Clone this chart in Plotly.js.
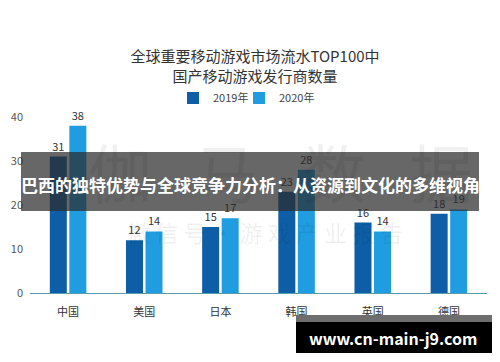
<!DOCTYPE html>
<html><head><meta charset="utf-8">
<script src="https://cdn.plot.ly/plotly-3.0.1.min.js"></script>
<style>html,body{margin:0;padding:0;background:#fff;}#chart{width:500px;height:362px;}</style>
</head><body><div id="chart"></div>
<script>
const categories = ['中国','美国','日本','韩国','英国','德国'];
const values2019 = [31,12,15,23,16,18];
const values2020 = [38,14,17,28,14,19];
const seriesNames = ['2019年','2020年'];
const yTicks = [0,10,20,30,40];

const F = '"Noto Sans CJK SC","Noto Sans",sans-serif';
// plot area in pixels: x 30..487, y 117..293
const L=30, R=487, T=117, B=293;
const px = x => (x-L)/(R-L);
const py = y => (B-y)/(B-T);

const traces = [
  {type:'bar', name:seriesNames[0], x:categories, y:values2019, marker:{color:'#0d5ea6'},
   text:values2019.map(String), textposition:'outside', cliponaxis:false, legend:'legend',
   textfont:{family:F,size:11,color:'#333'}, hoverinfo:'none'},
  {type:'bar', name:seriesNames[1], x:categories, y:values2020, marker:{color:'#1f9de0'},
   text:values2020.map(String), textposition:'outside', cliponaxis:false, legend:'legend2',
   textfont:{family:F,size:11,color:'#333'}, hoverinfo:'none'}
];

const legendBase = {orientation:'h', xanchor:'left', y:py(98), yanchor:'middle',
  font:{family:F,size:11,color:'#444'}, itemwidth:30, bgcolor:'rgba(0,0,0,0)'};

const layout = {
  width:500, height:362,
  margin:{l:L, r:500-R, t:T, b:362-B, pad:0},
  paper_bgcolor:'#fff', plot_bgcolor:'rgba(0,0,0,0)',
  font:{family:F, color:'#333'},
  title:{text:'全球重要移动游戏市场流水TOP100中<br>国产移动游戏发行商数量',
    x:0.51, xanchor:'center', y:1-62/362, yanchor:'middle', yref:'container',
    font:{family:F,size:15,color:'#333'}},
  barmode:'group', bargap:0.487, bargroupgap:0.13,
  showlegend:true,
  legend:Object.assign({}, legendBase, {x:px(173)}),
  legend2:Object.assign({}, legendBase, {x:px(239)}),
  xaxis:{showline:true, linecolor:'#5b9bb0', linewidth:1, showgrid:false, ticks:'',
    tickfont:{family:F,size:11,color:'#333'}, ticklabelstandoff:9, zeroline:false, fixedrange:true},
  yaxis:{range:[0,40], tickvals:yTicks, showgrid:false, zeroline:false, showline:false, ticks:'',
    tickfont:{family:F,size:11,color:'#555'}, ticklabelstandoff:6, fixedrange:true},
  shapes:[
    {type:'rect', xref:'paper', yref:'paper', x0:px(21), x1:px(479), y0:py(211), y1:py(152),
     fillcolor:'rgba(45,45,45,0.72)', line:{width:0}, layer:'above'},
    {type:'rect', xref:'paper', yref:'paper', x0:px(296), x1:px(492), y0:py(322), y1:py(315),
     fillcolor:'#6e6e6e', line:{width:0}, layer:'above'},
    {type:'rect', xref:'paper', yref:'paper', x0:px(296), x1:px(492), y0:py(353), y1:py(322),
     fillcolor:'#000', line:{width:0}, layer:'above'}
  ],
  annotations:[
    {xref:'paper', yref:'paper', x:px(280), y:py(170), text:'伽   马   数   据', showarrow:false,
     font:{family:F,size:64,color:'rgba(0,0,0,0.06)'}, xanchor:'center', yanchor:'middle'},
    {xref:'paper', yref:'paper', x:px(265), y:py(232), text:'微 信 号 · 游 戏 产 业 报 告', showarrow:false,
     font:{family:F,size:23,color:'rgba(0,0,0,0.07)'}, xanchor:'center', yanchor:'middle'},
    {xref:'paper', yref:'paper', x:px(250), y:py(184), text:'<b>巴西的独特优势与全球竞争力分析：从资源到文化的多维视角</b>', showarrow:false,
     font:{family:F,size:17,color:'#fff'}, xanchor:'center', yanchor:'middle'},
    {xref:'paper', yref:'paper', x:px(393), y:py(338), text:'<b>www.cn-main-j9.com</b>', showarrow:false,
     font:{family:F,size:16,color:'#fff'}, xanchor:'center', yanchor:'middle'}
  ]
};
Plotly.newPlot('chart', traces, layout, {staticPlot:true, displayModeBar:false});
</script></body></html>
